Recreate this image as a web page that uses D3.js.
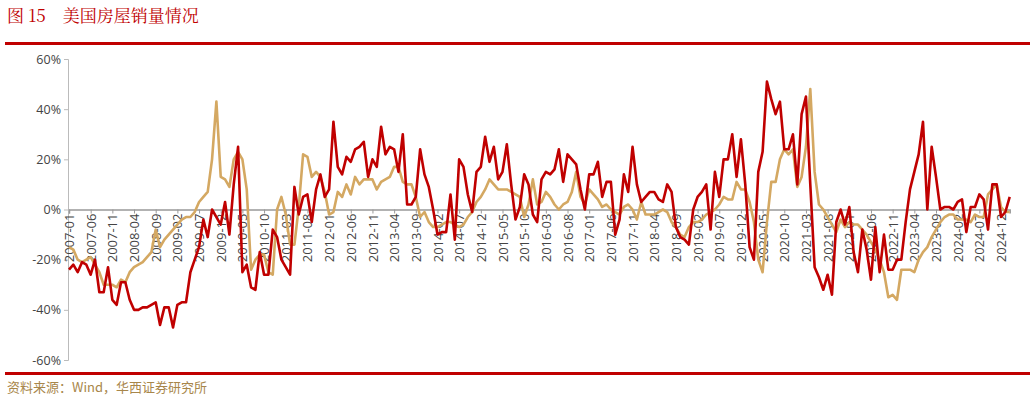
<!DOCTYPE html>
<html><head><meta charset="utf-8">
<script src="https://cdn.jsdelivr.net/npm/d3@7"></script>
<style>body{margin:0;background:#fff}svg{display:block}</style>
</head><body><svg id="c" width="1035" height="401"></svg>
<script>
const startMonth = "2007-01";
const newHomeSales = [
-24,-22,-25,-21,-22,-26,-20,-33,-33,-23,-36,-38,
-29,-29,-36,-40,-40,-39,-39,-38,-37,-46,-39,-39,
-47,-38,-37,-37,-25,-20,-15,-4,-11,0,-3,-6,
3,-10,10,25,-25,-22,-31,-32,-17,-26,-26,-8,
-11,-20,-23,-26,9,-2,5,6,-5,8,14,5,
8,35,17,14,21,19,24,25,27,13,20,17,
33,22,25,24,15,30,2,2,5,24,14,9,
0,-10,-9,-9,6,-12,20,17,6,-1,15,17,
29,19,25,12,15,26,10,-4,1,14,10,-2,
-5,12,15,14,16,24,11,22,20,18,8,0,
14,14,19,5,11,11,-10,-4,14,7,25,10,
3,5,7,7,4,3,10,7,-7,-11,-12,-14,
0,5,7,10,-8,15,5,20,20,30,13,28,
10,-15,-20,15,23,51,44,38,43,24,24,30,
10,38,45,10,-23,-27,-32,-26,-34,-5,0,-6,
1,-17,-25,-8,-16,-28,-7,-25,-10,-24,-24,-20,
-20,-5,8,15,22,35,0,25,13,0,1,1,
0,3,4,-9,1,1,6,4,-8,10,10,-3,
-1,5];
const existingHomeSales = [
-15,-16,-20,-21,-20,-19,-22,-25,-30,-30,-30,-31,
-28,-29,-25,-23,-22,-21,-19,-17,-8,-15,-12,-10,
-8,-6,-4,-3,-3,-1,3,5,7,20,43,13,
12,9,20,23,20,8,-24,-20,-18,-18,-25,-26,
0,5,-2,-14,-14,1,22,21,13,15,13,7,
-2,-1,7,5,10,6,13,10,12,12,12,8,
11,12,13,17,17,11,10,10,5,-3,-1,-5,
-7,-7,-6,-5,-5,-6,-7,-6,-3,-1,3,5,
8,12,10,8,8,8,7,6,5,-3,2,12,
2,3,7,5,2,0,2,3,7,15,5,2,
8,6,4,1,2,0,-1,-2,1,2,0,-4,
3,-2,-2,-2,-1,0,-1,-5,-7,-10,-11,-7,
-5,-5,-4,-2,-1,0,2,5,4,4,11,8,
8,3,-5,-20,-25,-5,11,11,20,24,22,24,
9,13,25,48,15,2,0,-3,-6,-9,-4,-7,
-5,-6,-6,-8,-10,-13,-16,-20,-25,-35,-34,-36,
-24,-24,-24,-25,-20,-17,-15,-11,-8,-5,-3,-2,
-2,-4,-4,-4,-5,-2,-3,-3,6,8,10,1,
-1,-1];
const yTicks = [-60,-40,-20,0,20,40,60];
const titleText = "图 15　美国房屋销量情况";
const sourceText = "资料来源：Wind，华西证券研究所";

const fmt = d3.timeFormat("%Y-%m");
const t0 = d3.timeParse("%Y-%m")(startMonth);
const months = newHomeSales.map((_, i) => fmt(d3.timeMonth.offset(t0, i)));
const tickLabels = months.filter((_, i) => i % 5 === 0);

const svg = d3.select("#c");
svg.append("text").attr("x", 7).attr("y", 22).attr("fill", "#c00000")
  .attr("font-family", "'Noto Serif CJK SC','Noto Sans CJK SC'").attr("font-size", 17).text(titleText);
svg.append("rect").attr("x", 5).attr("y", 42).attr("width", 1025).attr("height", 3).attr("fill", "#c00000");
svg.append("rect").attr("x", 5).attr("y", 372).attr("width", 1025).attr("height", 3).attr("fill", "#c00000");
svg.append("text").attr("x", 7).attr("y", 392).attr("fill", "#a8864a")
  .attr("font-family", "'Noto Sans CJK SC'").attr("font-size", 13).text(sourceText);

const x = d3.scalePoint().domain(months).range([69, 69 + 4.335 * (months.length - 1)]);
const y = d3.scaleLinear().domain([-60, 60]).range([360, 59]);

const ya = svg.append("g").attr("transform", "translate(68,0)")
  .call(d3.axisLeft(y).tickValues(yTicks).tickFormat(d => d + "%").tickSize(4));
ya.select(".domain").attr("stroke", "#bbb");
ya.selectAll(".tick line").attr("stroke", "#bbb");
ya.selectAll("text").attr("font-family", "'Open Sans'").attr("font-size", 12.5).attr("fill", "#444");

const xa = svg.append("g").attr("transform", `translate(0,${y(0)})`)
  .call(d3.axisBottom(x).tickValues(tickLabels).tickSize(4));
xa.select(".domain").attr("stroke", "#999").attr("stroke-width", 1.5);
xa.selectAll(".tick line").attr("stroke", "#999");
xa.selectAll("text").attr("font-family", "'Open Sans'").attr("font-size", 13).attr("fill", "#444")
  .attr("transform", "rotate(-90)").attr("text-anchor", "end").attr("dx", "0").attr("dy", "0.35em").attr("y", 0).attr("x", -4);

const line = d3.line().x((d, i) => x(months[i])).y(d => y(d));
svg.append("path").datum(existingHomeSales).attr("d", line).attr("fill", "none")
  .attr("stroke", "#d4a862").attr("stroke-width", 2.6).attr("stroke-linejoin", "round");
svg.append("path").datum(newHomeSales).attr("d", line).attr("fill", "none")
  .attr("stroke", "#c00000").attr("stroke-width", 2.6).attr("stroke-linejoin", "round");
</script></body></html>
